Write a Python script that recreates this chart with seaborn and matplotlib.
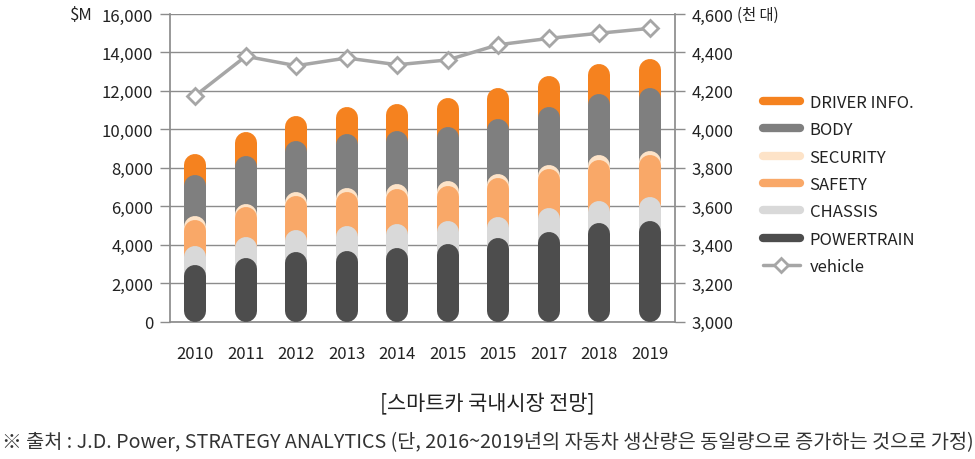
import matplotlib
matplotlib.use("Agg")
import matplotlib.pyplot as plt
from matplotlib.lines import Line2D
import seaborn as sns
import pandas as pd

# data ($M, stacked bottom -> top)
years = ["2010", "2011", "2012", "2013", "2014", "2015", "2015", "2017", "2018", "2019"]
powertrain = [2940, 3290, 3600, 3680, 3820, 4030, 4340, 4670, 5110, 5250]
chassis = [1000, 1120, 1160, 1300, 1250, 1220, 1080, 1240, 1180, 1210]
safety = [1360, 1530, 1750, 1740, 1820, 1820, 2030, 2020, 2130, 2200]
security = [200, 190, 210, 230, 250, 260, 220, 210, 240, 230]
body = [2140, 2500, 2660, 2810, 2790, 2810, 2870, 3040, 3180, 3240]
driver_info = [1070, 1210, 1300, 1380, 1390, 1470, 1590, 1610, 1560, 1530]
# vehicle production (thousand units, right axis)
vehicle = [4175, 4380, 4331, 4371, 4336, 4361, 4440, 4473, 4500, 4525]

series = [
    ("POWERTRAIN", powertrain, "#4d4d4d"),
    ("CHASSIS", chassis, "#d9d9d9"),
    ("SAFETY", safety, "#f9a868"),
    ("SECURITY", security, "#fde3c8"),
    ("BODY", body, "#7f7f7f"),
    ("DRIVER INFO.", driver_info, "#f5821f"),
]

sns.set_theme(style="white")
plt.rcParams["font.family"] = ["Noto Sans CJK KR", "DejaVu Sans"]

fig = plt.figure(figsize=(9.75, 4.6), dpi=100)
ax = fig.add_axes([170 / 975, 1 - 322.5 / 460, 505 / 975, 307.5 / 460])
ax.set_xlim(-0.5, len(years) - 0.5)
ax.set_ylim(0, 16000)

# rounded bars: thick lines with round caps, drawn top segment first
bar_px = 22
r = (bar_px / 2) * 16000 / 307.5
lw_pt = bar_px * 72 / fig.dpi
x = list(range(len(years)))
base = [0] * len(years)
for k, (name, vals, col) in enumerate(series):
    for i in x:
        lo = base[i]
        hi = lo + vals[i]
        y0 = r if k == 0 else lo - r
        ax.plot([i, i], [y0, hi - r], color=col, lw=lw_pt,
                solid_capstyle="round", zorder=10 - k)
        base[i] = hi

ax.set_yticks(range(0, 16001, 2000))
ax.set_yticklabels([f"{v:,}" for v in range(0, 16001, 2000)])
ax.yaxis.grid(True, color="#8c8c8c", lw=1)
ax.set_axisbelow(True)
ax.set_xticks(x)
ax.set_xticklabels(years)
ax.set_xticks([i + 0.5 for i in range(-1, len(years))], minor=True)
ax.tick_params(axis="x", which="major", length=0, pad=17, labelsize=12, labelcolor="#222222")
ax.tick_params(axis="x", which="minor", length=5, color="#8c8c8c", width=1, direction="out")
ax.tick_params(axis="y", length=7, color="#8c8c8c", width=1, direction="out",
               left=True, labelsize=12, labelcolor="#222222", pad=5)
for s in ["left", "bottom"]:
    ax.spines[s].set_color("#8c8c8c")
for s in ["top", "right"]:
    ax.spines[s].set_visible(False)

# vehicle line on the right axis
ax2 = ax.twinx()
df = pd.DataFrame({"x": x, "vehicle": vehicle})
sns.lineplot(data=df, x="x", y="vehicle", ax=ax2, color="#a6a6a6", lw=2.5,
             marker="D", markersize=8, markerfacecolor="white",
             markeredgecolor="#a6a6a6", markeredgewidth=2, zorder=20)
ax2.set_ylim(3000, 4600)
ax2.set_yticks(range(3000, 4601, 200))
ax2.set_yticklabels([f"{v:,}" for v in range(3000, 4601, 200)])
ax2.set_ylabel("")
ax2.set_xlabel("")
ax.set_xlabel("")
ax2.tick_params(axis="y", length=7, color="#8c8c8c", width=1, direction="out",
                right=True, labelsize=12, labelcolor="#222222", pad=5)
for s in ["top", "left", "bottom"]:
    ax2.spines[s].set_visible(False)
ax2.spines["right"].set_color("#8c8c8c")

fig.text(93 / 975, 1 - 15 / 460, "$M", ha="right", va="center", fontsize=12, color="#222222")
fig.text(737 / 975, 1 - 15 / 460, "(천 대)", ha="left", va="center", fontsize=11,
         color="#222222")

handles = [Line2D([0], [0], color=col, lw=6, solid_capstyle="round")
           for _, _, col in series[::-1]]
labels = [name for name, _, _ in series[::-1]]
handles.append(Line2D([0], [0], color="#a6a6a6", lw=2.5, marker="D", markersize=7,
                      markerfacecolor="white", markeredgecolor="#a6a6a6", markeredgewidth=2))
labels.append("vehicle")
fig.legend(handles, labels, loc="upper left", bbox_to_anchor=(748 / 975, 1 - 80 / 460),
           frameon=False, fontsize=12, handlelength=2.2, labelspacing=0.62,
           handletextpad=0.6, labelcolor="#222222")

fig.text(0.5, 1 - 404 / 460, "[스마트카 국내시장 전망]", ha="center", va="center",
         fontsize=15, fontweight="medium", color="#222222")
fig.text(0.5, 1 - 443 / 460,
         "※ 출처 : J.D. Power, STRATEGY ANALYTICS (단, 2016~2019년의 자동차 생산량은 동일량으로 증가하는 것으로 가정)",
         ha="center", va="center", fontsize=14.2, color="#333333")

fig.savefig("out.png", dpi=100)
